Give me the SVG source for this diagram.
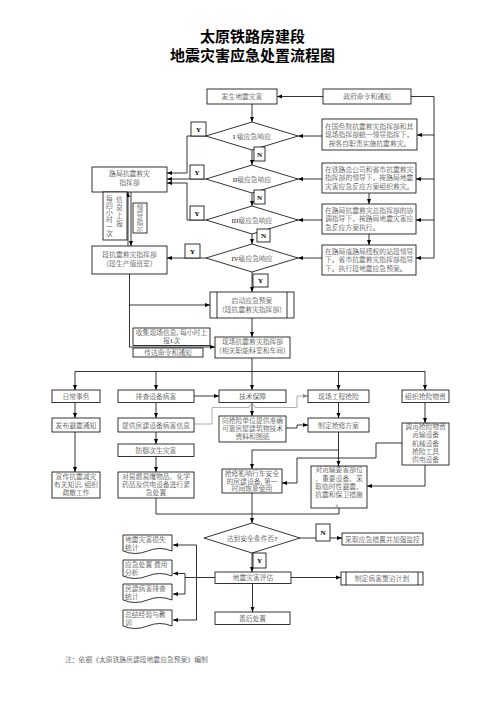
<svg xmlns="http://www.w3.org/2000/svg" width="504" height="713" viewBox="0 0 504 713">
<defs>
<style>
.b{fill:#fff;stroke:#000;stroke-width:0.8}
.t{font-family:"Liberation Serif","Noto Sans CJK SC",serif;font-size:6.8px;font-weight:300;fill:#111;text-anchor:middle}
.l{text-anchor:start}
.c{fill:none;stroke:#000;stroke-width:0.8}
.g{fill:none;stroke:#999;stroke-width:0.8}
.ar{marker-end:url(#a)}
.ag{marker-end:url(#ga)}
.yn{font-family:"Liberation Serif",serif;font-weight:bold;font-size:7px;fill:#000;text-anchor:middle}
.ti{font-family:"Noto Sans CJK SC",sans-serif;font-weight:bold;font-size:15px;fill:#000;text-anchor:middle}
</style>
<marker id="a" viewBox="0 0 10 10" refX="10" refY="5" markerWidth="5" markerHeight="5" orient="auto" markerUnits="userSpaceOnUse"><path d="M0,1 L10,5 L0,9 z" fill="#000"/></marker>
<marker id="ga" viewBox="0 0 10 10" refX="10" refY="5" markerWidth="5" markerHeight="5" orient="auto" markerUnits="userSpaceOnUse"><path d="M0,1 L10,5 L0,9 z" fill="#888"/></marker>
<path id="doc" d="M0,0 H49 V16 Q36.75,11 24.5,16 T0,16 Z"/>
</defs>
<rect width="504" height="713" fill="#fff"/>
<g id="title">
<text class="ti" x="252.5" y="41.5">太原铁路房建段</text>
<text class="ti" x="252.5" y="60.5">地震灾害应急处置流程图</text>
</g>

<g id="connectors">
<path class="c ar" d="M323,96.5 H277"/>
<path class="c ar" d="M252,104 V122"/>
<path class="c" d="M411,96.5 H434 V258"/>
<path class="c ar" d="M434,135 H417"/>
<path class="c ar" d="M434,179 H416"/>
<path class="c ar" d="M434,220 H416"/>
<path class="c ar" d="M434,258 H416"/>
<path class="c ar" d="M322,136 H298"/>
<path class="c ar" d="M322,179 H298"/>
<path class="c ar" d="M322,220 H298"/>
<path class="c ar" d="M322,258 H298"/>
<path class="c ar" d="M369,193 V204"/>
<path class="c ar" d="M369,234 V245"/>
<path class="c ar" d="M252,150 V165"/>
<path class="c ar" d="M252,193 V206"/>
<path class="c ar" d="M252,234 V244"/>
<path class="c ar" d="M252,272 V292"/>
<path class="c ar" d="M206,136 H187 V173 H167"/>
<path class="c ar" d="M206,179 H167"/>
<path class="c ar" d="M206,220 H187 V183 H167"/>
<path class="c ar" d="M206,258 H167"/>
<path class="c ar" d="M128,246 V192"/>
<path class="c ar" d="M131,192 V246"/>
<path class="c ar" d="M129.5,274 V347 H215"/>
<path class="c ar" d="M129.5,305 H210"/>
<path class="c ar" d="M252,318 V337"/>
<path class="c" d="M252,358 V371.5 M75,371.5 H425"/>
<path class="c ar" d="M75,371.5 V390"/>
<path class="c ar" d="M156,371.5 V390"/>
<path class="c ar" d="M252,371.5 V390"/>
<path class="c ar" d="M338.5,371.5 V390"/>
<path class="c ar" d="M425,371.5 V390"/>
<path class="c ar" d="M194,396 H219"/>
<path class="c ar" d="M75,402.5 V418"/>
<path class="c ar" d="M156,402.5 V418"/>
<path class="c ar" d="M252,402.5 V416"/>
<path class="c ar" d="M338.5,402.5 V418"/>
<path class="c ar" d="M425,402.5 V423"/>
<path class="g ag" d="M194,424 H212 V407.5 H249 A3,3 0 0 1 255,407.5 H297 V396 H308"/>
<path class="c ar" d="M286,428 H297 V425 H308"/>
<path class="c ar" d="M156,432 V444"/>
<path class="c ar" d="M75,432 V472"/>
<path class="c ar" d="M156,456.5 V472"/>
<path class="c ar" d="M338.5,432 V466"/>
<path class="c ar" d="M338.5,450 H252 V469"/>
<path class="c ar" d="M402,443 H376 V458 H297 V483 H282"/>
<path class="c ar" d="M425,465 V486 H367"/>
<path class="c" d="M156,498 V514 H339 V508"/>
<path class="c ar" d="M252,493 V523"/>
<path class="c ar" d="M300,538 H342"/>
<path class="c ar" d="M252,553 V572"/>
<path class="c ar" d="M291,577.5 H341"/>
<path class="c ar" d="M252.5,583.5 V612"/>
<path class="c" d="M215,577.5 H185 M185,573.5 V594 M196.5,545 V620"/>
<path class="c ar" d="M185,573.5 H173"/>
<path class="c ar" d="M185,594 H173"/>
<path class="c ar" d="M196.5,545 H173"/>
<path class="c ar" d="M196.5,620 H173"/>
</g>

<g id="n-start"><rect class="b" x="207" y="89" width="70" height="15"/><text class="t" x="242" y="99">发生地震灾害</text></g>
<g id="n-gov"><rect class="b" x="323" y="89" width="88" height="15"/><text class="t" x="367" y="99">政府命令和通知</text></g>

<g id="d1"><polygon class="b" points="206,136 252,122 298,136 252,150"/><text class="t" x="252" y="138.5">I 级应急响应</text></g>
<g id="d2"><polygon class="b" points="206,179 252,165 298,179 252,193"/><text class="t" x="252" y="181.5">II级应急响应</text></g>
<g id="d3"><polygon class="b" points="206,220 252,206 298,220 252,234"/><text class="t" x="252" y="222.5">III级应急响应</text></g>
<g id="d4"><polygon class="b" points="206,258 252,244 298,258 252,272"/><text class="t" x="252" y="260.5">IV级应急响应</text></g>

<g id="y1"><rect class="b" x="191" y="122" width="15" height="14"/><text class="yn" x="198.5" y="131.5">Y</text></g>
<g id="y2"><rect class="b" x="190" y="165" width="14" height="14"/><text class="yn" x="197" y="174.5">Y</text></g>
<g id="y3"><rect class="b" x="190" y="206" width="14" height="14"/><text class="yn" x="197" y="215.5">Y</text></g>
<g id="y4"><rect class="b" x="185" y="244" width="15" height="14"/><text class="yn" x="192.5" y="253.5">Y</text></g>
<g id="n1"><rect class="b" x="254" y="147" width="11" height="14"/><text class="yn" x="259.5" y="156.5">N</text></g>
<g id="n2"><rect class="b" x="254" y="190" width="11" height="14"/><text class="yn" x="259.5" y="199.5">N</text></g>
<g id="n3"><rect class="b" x="257" y="229" width="13" height="13"/><text class="yn" x="263.5" y="238">N</text></g>
<g id="y5"><rect class="b" x="253" y="274" width="15" height="13"/><text class="yn" x="260.5" y="283">Y</text></g>

<g id="r1"><rect class="b" x="322" y="119" width="95" height="31"/>
<text class="t l" x="325" y="128.5">在国务院抗震救灾指挥部和其</text>
<text class="t l" x="325" y="137">现场指挥部统一领导指挥下，</text>
<text class="t" x="369.5" y="145.5">按各自职责实施抗震救灾。</text></g>
<g id="r2"><rect class="b" x="322" y="163" width="94" height="30"/>
<text class="t l" x="325" y="171.5">在铁路总公司和省市抗震救灾</text>
<text class="t l" x="325" y="180">指挥部的领导下，按路局地震</text>
<text class="t l" x="325" y="188.5">灾害应急反应方案组织救灾。</text></g>
<g id="r3"><rect class="b" x="322" y="204" width="94" height="30"/>
<text class="t l" x="325" y="212.5">在路局抗震救灾总指挥部的协</text>
<text class="t l" x="325" y="221">调指导下，按路局地震灾害应</text>
<text class="t l" x="325" y="229.5">急反应方案执行。</text></g>
<g id="r4"><rect class="b" x="322" y="245" width="94" height="30"/>
<text class="t l" x="325" y="253.5">在路局或路局授权的站段领导</text>
<text class="t l" x="325" y="262">下。省市抗震救灾指挥部指导</text>
<text class="t l" x="325" y="270.5">下。执行段地震应急预案。</text></g>

<g id="n-lj"><rect class="b" x="92" y="167" width="75" height="25"/>
<text class="t" x="129.5" y="176">路局抗震救灾</text>
<text class="t" x="129.5" y="184.5">指挥部</text></g>
<g id="n-report"><rect class="b" x="103" y="192" width="24" height="48"/>
<text class="t"><tspan x="109.5" y="201">每</tspan><tspan x="109.5" y="208">四</tspan><tspan x="109.5" y="215">小</tspan><tspan x="109.5" y="222">时</tspan><tspan x="109.5" y="229">一</tspan><tspan x="109.5" y="236">次</tspan></text>
<text class="t"><tspan x="119.5" y="202">信</tspan><tspan x="119.5" y="210">息</tspan><tspan x="119.5" y="218">上</tspan><tspan x="119.5" y="226">报</tspan></text></g>
<g id="n-lead"><rect class="b" x="133" y="203" width="14" height="30"/>
<text class="t"><tspan x="140" y="210">领</tspan><tspan x="140" y="217">导</tspan><tspan x="140" y="224">指</tspan><tspan x="140" y="231">示</tspan></text></g>
<g id="n-duan"><rect class="b" x="92" y="246" width="75" height="28"/>
<text class="t" x="129.5" y="257">段抗震救灾指挥部</text>
<text class="t" x="129.5" y="265.5">（段生产值班室）</text></g>

<g id="n-qd"><rect class="b" x="210" y="292" width="84" height="26"/>
<path class="c" d="M217,292 V318 M287,292 V318"/>
<text class="t" x="252" y="302.5">启动应急预案</text>
<text class="t" x="252" y="311.5">（段抗震救灾指挥部）</text></g>
<g id="n-collect"><rect class="b" x="133" y="328" width="77" height="17.5"/>
<text class="t" x="171.5" y="335">收集现场信息, 每小时上</text>
<text class="t" x="171.5" y="342.5">报1次</text></g>
<g id="n-pass"><rect class="b" x="133" y="348" width="70" height="9"/>
<text class="t" x="168" y="355">传达命令和通知</text></g>
<g id="n-xc"><rect class="b" x="215" y="337" width="75" height="21"/>
<text class="t" x="252.5" y="344">现场抗震救灾指挥部</text>
<text class="t" x="252.5" y="352.5">（相关职能科室和车间）</text></g>

<g id="n-rc"><rect class="b" x="52" y="390" width="48" height="12.5"/><text class="t" x="76" y="398.8">日常事务</text></g>
<g id="n-pc"><rect class="b" x="118" y="390" width="76" height="12.5"/><text class="t" x="156" y="398.8">排查设备病害</text></g>
<g id="n-js"><rect class="b" x="219" y="390" width="67" height="12.5"/><text class="t" x="252.5" y="398.8">技术保障</text></g>
<g id="n-gc"><rect class="b" x="308" y="390" width="61" height="12.5"/><text class="t" x="338.5" y="398.8">现场工程抢险</text></g>
<g id="n-wz"><rect class="b" x="402" y="390" width="47" height="12.5"/><text class="t" x="425.5" y="398.8">组织抢险物资</text></g>

<g id="n-fb"><rect class="b" x="52" y="418" width="48" height="14"/><text class="t" x="76" y="427.5">发布避震通知</text></g>
<g id="n-tg"><rect class="b" x="118" y="418" width="76" height="14"/><text class="t" x="156" y="427.5">提供房建设备病害信息</text></g>
<g id="n-zl"><rect class="b" x="219" y="416" width="67" height="26"/>
<text class="t" x="252.5" y="422.5">向抢险单位提供准确</text>
<text class="t" x="252.5" y="430.5">可靠房屋建筑物技术</text>
<text class="t" x="252.5" y="438.5">资料和图纸</text></g>
<g id="n-zd"><rect class="b" x="308" y="418" width="61" height="14"/><text class="t" x="338.5" y="427.5">制定抢修方案</text></g>
<g id="n-dy"><rect class="b" x="402" y="423" width="47" height="42"/>
<text class="t" x="425.5" y="429">调运抢险物资</text>
<text class="t" x="425.5" y="437">运输设备</text>
<text class="t" x="425.5" y="445.5">机械设备</text>
<text class="t" x="425.5" y="454">抢险工具</text>
<text class="t" x="425.5" y="462">供电设备</text></g>
<g id="n-fy"><rect class="b" x="118" y="444" width="76" height="12.5"/><text class="t" x="156" y="452.8">防御次生灾害</text></g>

<g id="n-xcz"><rect class="b" x="52" y="472" width="48" height="26"/>
<text class="t" x="76" y="478.5">宣传抗震减灾</text>
<text class="t" x="76" y="486.5">有关知识, 组织</text>
<text class="t" x="76" y="494.5">疏散工作</text></g>
<g id="n-dyr"><rect class="b" x="118" y="472" width="76" height="26"/>
<text class="t" x="156" y="478.5">对易燃易爆物品、化学</text>
<text class="t" x="156" y="486.5">药品及供电设备进行紧</text>
<text class="t" x="156" y="494.5">急处置</text></g>
<g id="n-qx"><rect class="b" x="222" y="469" width="60" height="24"/>
<text class="t" x="252" y="475.5">抢修影响行车安全</text>
<text class="t" x="252" y="483.5">的房建设备, 第一</text>
<text class="t" x="252" y="491">时间恢复使用</text></g>
<g id="n-dys"><rect class="b" x="311" y="466" width="56" height="42"/>
<text class="t" x="339" y="472">对运输要害部位</text>
<text class="t" x="339" y="480.5">、重要设备、采</text>
<text class="t" x="339" y="489">取临时性避震、</text>
<text class="t" x="339" y="497">抗震和保卫措施</text>
<text class="t" x="339" y="505.5">。</text></g>

<g id="d5"><polygon class="b" points="204,538 252,523 300,538 252,553"/><text class="t" x="252" y="540.5">达到安全条件否?</text></g>
<g id="n4"><rect class="b" x="316" y="524" width="14" height="17"/><text class="yn" x="323" y="535">N</text></g>
<g id="y6"><rect class="b" x="253" y="553" width="13" height="15"/><text class="yn" x="259.5" y="563">Y</text></g>
<g id="n-cq"><rect class="b" x="342" y="533" width="81" height="12"/><text class="t" x="382.5" y="541.5">采取应急措置并加强监控</text></g>
<g id="n-pg"><rect class="b" x="215" y="572" width="76" height="11.5"/><text class="t" x="253" y="580.3">地震灾害评估</text></g>
<g id="n-zz"><rect class="b" x="341" y="572" width="82" height="13"/>
<path class="c" d="M346,572 V585 M418,572 V585"/>
<text class="t" x="382" y="581">制定病害整治计划</text></g>
<g id="n-sh"><rect class="b" x="215" y="612" width="75" height="12.5"/><text class="t" x="252.5" y="620.8">善后处置</text></g>

<g id="doc1"><use href="#doc" x="123" y="535" class="b"/>
<text class="t l" x="125" y="541.5">地震灾害损失</text><text class="t l" x="125" y="549.5">统计</text></g>
<g id="doc2"><use href="#doc" x="123" y="560" class="b"/>
<text class="t l" x="125" y="566.5">应急处置 费用</text><text class="t l" x="125" y="574.5">分析</text></g>
<g id="doc3"><use href="#doc" x="123" y="584" class="b"/>
<text class="t l" x="125" y="590.5">房建病害排查</text><text class="t l" x="125" y="598.5">统计</text></g>
<g id="doc4"><use href="#doc" x="123" y="610" class="b"/>
<text class="t l" x="125" y="616.5">总结经验与教</text><text class="t l" x="125" y="624.5">训</text></g>

<g id="footer"><text class="t l" x="65" y="662">注：依据《太原铁路房建段地震应急预案》编制</text></g>
</svg>
